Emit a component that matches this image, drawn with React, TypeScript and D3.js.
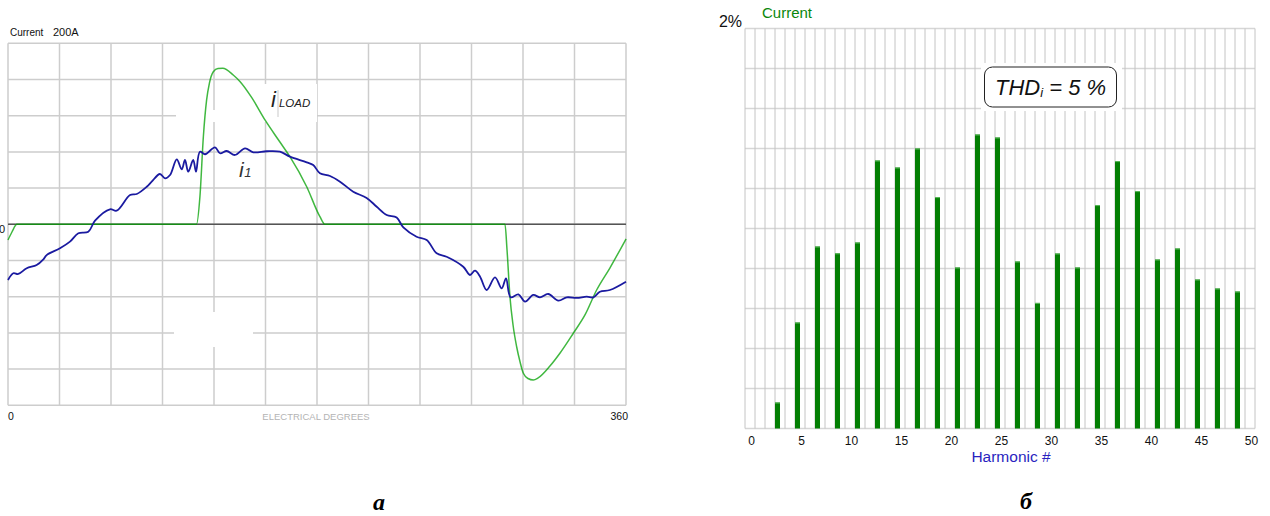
import React from "react";
import * as d3 from "d3";

// ---------- Left chart data: waveforms (degrees, amps) ----------
const i1Deg = [0, 3.1, 6.0, 10.9, 16.7, 20.6, 22.5, 30.3, 36.1, 41.0, 46.8, 50.7, 59.4, 63.3, 71.1, 75.0, 80.8, 83.7, 88.5, 91.5, 94.4, 98.3, 101.2, 103.1, 105.0, 107.9, 109.5, 111.8, 114.8, 120.6, 123.5, 127.4, 132.2, 138.1, 142.9, 150.7, 158.4, 164.3, 174.0, 177.8, 181.7, 187.6, 193.4, 201.1, 208.9, 214.8, 220.6, 226.4, 230.3, 238.0, 243.9, 249.7, 255.5, 265.2, 269.1, 272.0, 275.0, 278.8, 283.7, 287.6, 290.1, 292.8, 297.3, 301.2, 306.0, 309.9, 314.7, 320.6, 325.5, 331.3, 337.1, 341.0, 344.8, 350.6, 360];
const i1Amp = [-61.5, -54.1, -54.9, -48.6, -45.0, -38.7, -34.0, -26.5, -19.2, -9.9, -8.2, 4.0, 16.6, 15.0, 32.4, 33.5, 41.5, 47.1, 55.6, 50.8, 54.5, 71.8, 60.8, 71.1, 58.1, 71.1, 58.1, 80.2, 77.4, 85.1, 78.5, 81.0, 76.6, 84.0, 79.6, 80.7, 80.2, 74.7, 68.5, 65.5, 56.4, 53.4, 47.1, 36.0, 29.1, 19.4, 10.3, 7.5, -3.5, -13.7, -17.3, -32.0, -35.8, -46.9, -56.0, -51.3, -57.9, -72.6, -58.6, -70.7, -59.7, -80.7, -77.4, -85.5, -78.1, -80.7, -77.0, -84.4, -80.7, -81.4, -80.0, -80.7, -74.5, -72.6, -63.4];

const loadDeg = [0, 2.3, 5.2, 109.8, 111.8, 113.8, 115.7, 117.3, 119.6, 122.3, 125.1, 131.2, 135.1, 142.1, 149.7, 158.4, 164.3, 174.0, 181.7, 184.6, 289.5, 290.7, 292.4, 294.2, 296.3, 298.3, 300.2, 302.9, 306.0, 308.8, 315.7, 321.6, 329.3, 336.1, 342.9, 350.6, 360];
const loadAmp = [-17.3, -8.5, 0, 0, 30.5, 96.8, 137.4, 155.8, 168.6, 172.2, 172.4, 165.0, 157.8, 139.6, 115.3, 90.9, 74.4, 41.5, 8.4, 0, 0, -28.4, -80.0, -111.3, -135.3, -152.2, -164.6, -170.4, -172.1, -169.8, -156.6, -142.2, -120.4, -100.2, -72.6, -48.3, -16.2];

const degGrid = d3.range(0, 361, 30);
const ampGrid = d3.range(-200, 201, 40);

// ---------- Right chart data: harmonic spectrum ----------
const harmonics = [3, 5, 7, 9, 11, 13, 15, 17, 19, 21, 23, 25, 27, 29, 31, 33, 35, 37, 39, 41, 43, 45, 47, 49];
const harmonicPct = [0.13, 0.53, 0.91, 0.876, 0.93, 1.34, 1.305, 1.40, 1.157, 0.805, 1.47, 1.455, 0.835, 0.628, 0.875, 0.805, 1.117, 1.337, 1.187, 0.845, 0.90, 0.745, 0.70, 0.685];
const harmonicTicks = [0, 5, 10, 15, 20, 25, 30, 35, 40, 45, 50];
const pctGrid = d3.range(0, 2.0001, 0.2);
const harmonicGrid = d3.range(0, 52, 1);

const sans = "'Liberation Sans', Arial, sans-serif";

export default function App() {
  // left chart scales
  const xD = d3.scaleLinear().domain([0, 360]).range([8, 626]);
  const yA = d3.scaleLinear().domain([-200, 200]).range([405.3, 43.3]);
  const lineSmooth = d3
    .line<[number, number]>()
    .x((d) => xD(d[0]))
    .y((d) => yA(d[1]))
    .curve(d3.curveCatmullRom.alpha(0.5));
  const lineMono = d3
    .line<[number, number]>()
    .x((d) => xD(d[0]))
    .y((d) => yA(d[1]))
    .curve(d3.curveMonotoneX);
  const i1Path = lineSmooth(i1Deg.map((d, i) => [d, i1Amp[i]]) as [number, number][]) || "";
  const loadPath = lineMono(loadDeg.map((d, i) => [d, loadAmp[i]]) as [number, number][]) || "";

  // right chart scales
  const xH = d3.scaleLinear().domain([0, 51]).range([745, 1255]);
  const yP = d3.scaleLinear().domain([0, 2]).range([428.5, 28.5]);
  const barW = xH(0.5) - xH(0);

  return (
    <svg
      width={1270}
      height={516}
      style={{ position: "absolute", left: 0, top: 0, background: "#fff" }}
    >
      <rect x={0} y={0} width={1270} height={516} fill="#fff" />

      {/* ================= LEFT CHART ================= */}
      <g>
        {ampGrid.map((a) => (
          <line key={"ha" + a} x1={xD(0)} x2={xD(360)} y1={yA(a)} y2={yA(a)} stroke="#cdcdcd" strokeWidth={1.5} />
        ))}
        {degGrid.map((d) => (
          <line key={"vd" + d} x1={xD(d)} x2={xD(d)} y1={yA(200)} y2={yA(-200)} stroke="#cdcdcd" strokeWidth={1.5} />
        ))}
        {/* white patches from the original figure */}
        <rect x={176} y={110} width={141} height={12} fill="#fff" />
        <rect x={228} y={84} width={89} height={38} fill="#fff" />
        <rect x={174} y={312} width={79} height={35} fill="#fff" />

        {/* zero line */}
        <line x1={xD(0)} x2={xD(360)} y1={yA(0)} y2={yA(0)} stroke="#555" strokeWidth={1.5} />

        <path d={loadPath} fill="none" stroke="rgb(0,160,0)" strokeOpacity={0.75} strokeWidth={1.5} />
        <path d={i1Path} fill="none" stroke="#1a1aa0" strokeWidth={1.8} />

        {/* labels */}
        <text x={10} y={36} fontFamily={sans} fontSize={10} fill="#111">Current</text>
        <text x={53} y={36} fontFamily={sans} fontSize={11} fill="#111">200A</text>
        <text x={5} y={233} fontFamily={sans} fontSize={11} fill="#111" textAnchor="end">0</text>
        <text x={8} y={420} fontFamily={sans} fontSize={10.5} fill="#111">0</text>
        <text x={628} y={420} fontFamily={sans} fontSize={10.5} fill="#111" textAnchor="end">360</text>
        <text x={316} y={420} fontFamily={sans} fontSize={9.5} fill="#b4b4b4" textAnchor="middle">ELECTRICAL DEGREES</text>

        <text x={271} y={107} fontFamily={sans} fontStyle="italic" fill="#222">
          <tspan fontSize={22}>i</tspan>
          <tspan fontSize={11.5} dx={3}>LOAD</tspan>
        </text>
        <line x1={278} x2={278} y1={90} y2={117} stroke="#bbb" strokeWidth={0.8} />
        <text x={239} y={177} fontFamily={sans} fontStyle="italic" fill="#333">
          <tspan fontSize={21}>i</tspan>
          <tspan fontSize={13} dx={0.5}>1</tspan>
        </text>
      </g>

      {/* ================= RIGHT CHART ================= */}
      <g>
        {pctGrid.map((p, i) => (
          <line key={"hp" + i} x1={xH(0)} x2={xH(51)} y1={yP(p)} y2={yP(p)} stroke="#d6d6d6" strokeWidth={1.5} />
        ))}
        {harmonicGrid.map((h) => (
          <line key={"vh" + h} x1={xH(h)} x2={xH(h)} y1={yP(2)} y2={yP(0)} stroke="#c4c4c4" strokeWidth={1} />
        ))}

        {harmonics.map((h, i) => (
          <g key={"b" + h}>
            <rect x={xH(h)} y={yP(harmonicPct[i])} width={barW} height={yP(0) - yP(harmonicPct[i])} fill="#037f03" />
            <rect x={xH(h)} y={yP(harmonicPct[i])} width={barW} height={1} fill="#5cb85c" />
          </g>
        ))}

        {/* THD box */}
        <rect x={981} y={63} width={141} height={48} fill="#fff" />
        <rect x={984.5} y={67} width={132} height={40} rx={8} ry={8} fill="#fff" stroke="#222" strokeWidth={1} />
        <text x={995} y={95} fontFamily={sans} fontStyle="italic" fontSize={22} fill="#111">
          <tspan>THD</tspan>
          <tspan fontSize={13} dy={2}>i</tspan>
          <tspan dy={-2}> = 5 %</tspan>
        </text>

        {/* axes text */}
        <text x={742} y={27} fontFamily={sans} fontSize={16} fill="#111" textAnchor="end">2%</text>
        <text x={762} y={18} fontFamily={sans} fontSize={15} fill="#0a870a">Current</text>
        {harmonicTicks.map((t) => (
          <text key={"t" + t} x={xH(t) + 6.5} y={445} fontFamily={sans} fontSize={12} fill="#111" textAnchor="middle">
            {t}
          </text>
        ))}
        <text x={1011} y={462} fontFamily={sans} fontSize={15.5} fill="#2a1fc0" textAnchor="middle">Harmonic #</text>
      </g>

      {/* panel captions */}
      <text x={379} y={510} fontFamily="'Liberation Serif', 'Times New Roman', serif" fontStyle="italic" fontWeight="bold" fontSize={24} fill="#000" textAnchor="middle">a</text>
      <text x={1026} y={509} fontFamily="'Liberation Serif', 'Times New Roman', serif" fontStyle="italic" fontWeight="bold" fontSize={24} fill="#000" textAnchor="middle">б</text>
    </svg>
  );
}
